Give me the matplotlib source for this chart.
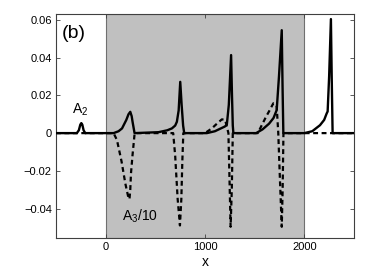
import numpy as np
import matplotlib
matplotlib.use('Agg')
import matplotlib.pyplot as plt

plt.rcParams['font.family'] = ['Liberation Sans', 'DejaVu Sans']
plt.rcParams['mathtext.fontset'] = 'custom'
plt.rcParams['mathtext.rm'] = 'Liberation Sans'
plt.rcParams['mathtext.it'] = 'Liberation Sans'

# solid curve: A_2
x_a2 = [-500, -290, -270, -255, -245, -235, -222, -205,
        80, 130, 165, 208, 230, 248, 262, 271, 291,
        533, 620, 667, 700, 717, 735, 751, 765, 780, 791,
        1019, 1100, 1160, 1200, 1220, 1240, 1263, 1272, 1280, 1286,
        1515, 1580, 1645, 1690, 1722, 1745, 1773, 1781, 1789,
        2000, 2080, 2158, 2200, 2225, 2235, 2250, 2268, 2276, 2285, 2500]
y_a2 = [0, 0, 0.0015, 0.0045, 0.0053, 0.0045, 0.0015, 0,
        0, 0.001, 0.0025, 0.007, 0.010, 0.0113, 0.009, 0.006, 0,
        0.0005, 0.0015, 0.0025, 0.004, 0.006, 0.012, 0.0272, 0.015, 0.004, 0,
        0, 0.001, 0.0025, 0.0035, 0.0045, 0.015, 0.0414, 0.02, 0.004, 0,
        0, 0.002, 0.005, 0.008, 0.0122, 0.03, 0.0546, 0.025, 0,
        0, 0.001, 0.0042, 0.007, 0.0104, 0.0115, 0.03, 0.0605, 0.03, 0, 0]

# dashed curve: A_3 / 10
x_a3 = [-500, 80, 114, 160, 198, 231, 240, 248, 255, 270, 282, 292,
        680, 700, 725, 748, 762, 772, 782,
        1000, 1069, 1120, 1170, 1203, 1222, 1236, 1245, 1258, 1270, 1280,
        1532, 1570, 1615, 1650, 1688, 1710, 1722, 1738, 1755, 1773, 1782, 1790,
        2500]
y_a3 = [0, 0, -0.0037, -0.015, -0.0267, -0.0347, -0.035, -0.030, -0.0214, -0.012, -0.0055, 0,
        0, -0.012, -0.035, -0.049, -0.035, -0.015, 0,
        0, 0.0025, 0.005, 0.0073, 0.007, 0.003, 0, -0.02, -0.0497, -0.03, 0,
        0, 0.004, 0.0087, 0.012, 0.0158, 0.0155, 0.0143, 0, -0.025, -0.0497, -0.03, 0,
        0]

x_ticks = [0, 1000, 2000]
y_ticks = [-0.04, -0.02, 0, 0.02, 0.04, 0.06]
y_labels = ['\u22120.04', '\u22120.02', '0', '0.02', '0.04', '0.06']

fig = plt.figure(figsize=(3.72, 2.80), dpi=100)
ax = fig.add_axes([0.1505, 0.151, 0.801, 0.799])

ax.axvspan(0, 2000, facecolor='#c0c0c0', edgecolor='#707070', linewidth=0.8, zorder=0)
ax.plot(x_a3, y_a3, color='black', linewidth=1.6, linestyle=(0, (2.2, 1.6)), zorder=2)
ax.plot(x_a2, y_a2, color='black', linewidth=1.7, zorder=3)

ax.set_xlim(-500, 2500)
ax.set_ylim(-0.0555, 0.0632)
ax.set_xticks(x_ticks)
ax.set_xticklabels([str(t) for t in x_ticks])
ax.set_yticks(y_ticks)
ax.set_yticklabels(y_labels)
ax.tick_params(direction='in', length=3, width=0.6, labelsize=8, top=True, right=True,
               color='#404040', pad=3)
for s in ax.spines.values():
    s.set_color('#404040')
    s.set_linewidth(0.8)

ax.set_xlabel('x', fontsize=10, labelpad=2)

ax.text(0.02, 0.915, '(b)', transform=ax.transAxes, fontsize=14, ha='left', va='center')
ax.text(-335, 0.0125, r'$\mathregular{A_2}$', fontsize=10, ha='left', va='center')
ax.text(168, -0.044, r'$\mathregular{A_3/10}$', fontsize=10, ha='left', va='center')

fig.savefig('out.png', dpi=100)
